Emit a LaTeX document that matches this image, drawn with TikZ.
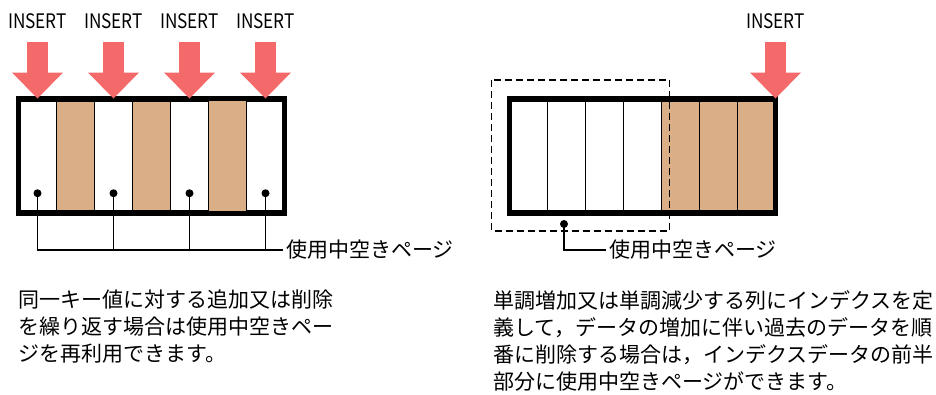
\documentclass[tikz,border=0pt]{standalone}
\usepackage{fontspec}
\setmainfont{Noto Sans CJK JP}
\newfontfamily\insfont[FakeStretch=0.86]{Noto Sans CJK JP}
\usetikzlibrary{positioning,arrows.meta}
\definecolor{insred}{RGB}{244,106,106}
\definecolor{pagetan}{RGB}{218,174,134}

\begin{document}
\begin{tikzpicture}[x=1pt,y=-1pt,
  pageframe/.style={draw,line width=5.5pt,minimum width=266pt,minimum height=114.5pt,inner sep=0pt,outer sep=0pt},
  bulletdot/.style={circle,fill=black,inner sep=0pt,minimum size=8pt},
  insertlabel/.style={font=\insfont\fontsize{20}{20}\selectfont,inner sep=0pt},
  insertarrow/.style={draw=insred,line width=21pt,-{Triangle[length=26pt,width=51pt,line width=0pt,fill=insred]}},
  busline/.style={line width=1.5pt},
  pagelabel/.style={font=\fontsize{21}{21}\selectfont,anchor=west,inner sep=3pt},
  notetext/.style={font=\fontsize{21}{27}\selectfont,align=left,inner sep=0pt,anchor=north west}]
\tikzstyle{pagecell}=[draw,line width=1.4pt,minimum width=38pt,minimum height=109pt,inner sep=0pt,outer sep=0pt]
\useasboundingbox (0,0) rectangle (936,394);

\foreach \i/\c in {1/white,2/pagetan,3/white,4/pagetan,5/white,7/white}
  \node[pagecell,fill=\c] (l\i) at ({38*\i-0.5},155.75) {};
\node[pageframe] (lbox) at (151.5,155.75) {};
\node[pagecell,fill=pagetan,minimum height=112pt] (l6) at (227.5,156) {};

\foreach \i/\x in {1/37.5,3/113.5,5/189.5,7/265.5} {
  \node[insertlabel] (i\i) at (\x,21) {INSERT};
  \coordinate (s\i) at ([yshift=-21pt]i\i.center);
  \draw[insertarrow] (s\i) -- (l\i.north |- lbox.north);
  \node[bulletdot] (d\i) at ([yshift=17pt]l\i.south) {};
}
\node[pagelabel] (lpage) at (283,250) {使用中空きページ};
\draw[busline] (d1.center) |- (lpage.west);
\foreach \i in {3,5,7}
  \draw[busline] (d\i.center) -- (d\i.center |- lpage.west);

\foreach \i/\c in {1/white,2/white,3/white,4/white,5/pagetan,6/pagetan,7/pagetan}
  \node[pagecell,fill=\c] (r\i) at ({490.5+38*\i},155.75) {};
\node[pageframe] (rbox) at (642.5,155.75) {};
\draw[line width=1.5pt,dash pattern=on 7pt off 4pt] (491.5,80) rectangle (669.5,231);
\node[bulletdot] (d8) at (564,224) {};
\node[pagelabel] (rpage) at (606,250) {使用中空きページ};
\draw[busline] (d8.center) |- (rpage.west);
\node[insertlabel] (i8) at (775.5,21) {INSERT};
\coordinate (s8) at ([yshift=-21pt]i8.center);
\draw[insertarrow] (s8) -- (rbox.north east);

\node[notetext] (lnote) at (18,290) {同一キー値に対する追加又は削除\\を繰り返す場合は使用中空きペー\\ジを再利用できます。};
\node[notetext] (rnote) at (493,290) {単調増加又は単調減少する列にインデクスを定\\義して，データの増加に伴い過去のデータを順\\番に削除する場合は，インデクスデータの前半\\部分に使用中空きページができます。};
\end{tikzpicture}
\end{document}
